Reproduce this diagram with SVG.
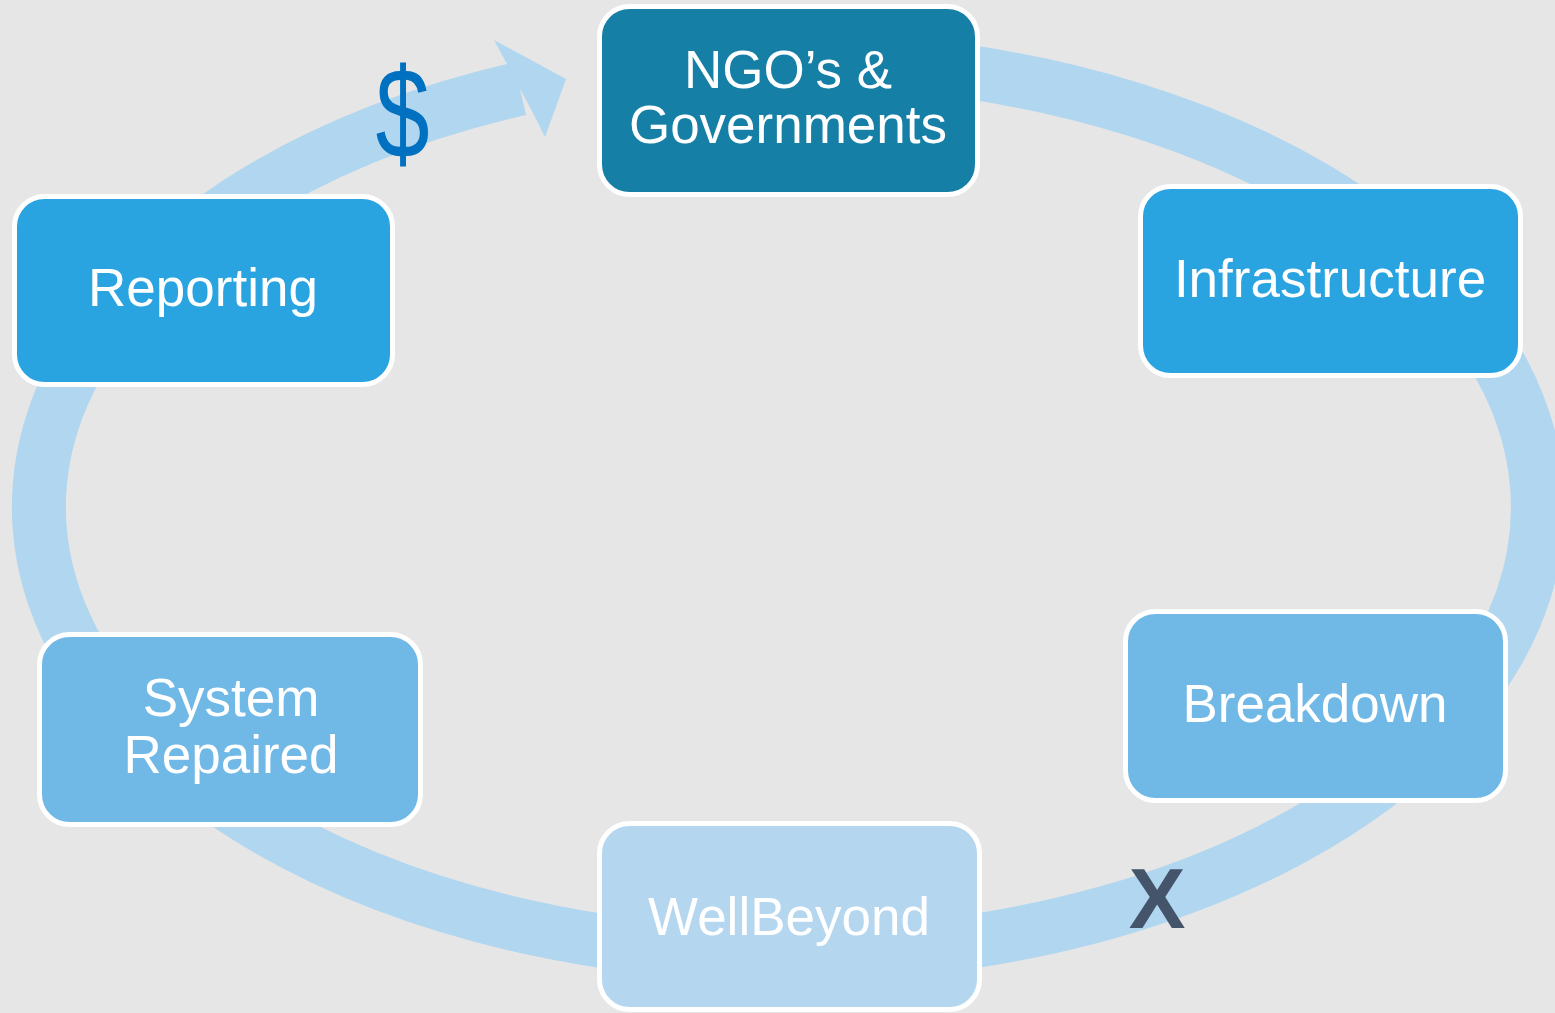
<svg xmlns="http://www.w3.org/2000/svg" width="1555" height="1013" viewBox="0 0 1555 1013">
<style>
.node rect{stroke:#ffffff;stroke-width:5}
.lbl{font-family:"Liberation Sans",Arial,sans-serif;font-size:53px;fill:#ffffff;text-anchor:middle}
.ring{fill:none;stroke:#b1d6f0;stroke-width:54}
</style>
<rect x="0" y="0" width="1555" height="1013" fill="#e6e6e6"/>
<g id="connectors">
<path class="ring" d="M 800 59.05 A 749.5 448 0 1 1 520 88.7"/>
<polygon points="507,64 494,40 566,79 545,137 533,113" fill="#b1d6f0"/>
</g>
<g id="dollar">
<text transform="translate(402.5,0) scale(0.76,1)" x="0" y="158" style="font-family:'Liberation Sans',Arial,sans-serif;font-size:128px;fill:#0070c0;text-anchor:middle">$</text>
</g>
<g id="cross">
<text x="1157" y="928" style="font-family:'Liberation Sans',Arial,sans-serif;font-size:85px;font-weight:bold;fill:#44546a;text-anchor:middle">X</text>
</g>
<g id="ngo" class="node">
<rect x="599.5" y="6.5" width="378" height="188" rx="30" fill="#157fa6"/>
<text class="lbl" x="788" y="88">NGO’s &amp;</text>
<text class="lbl" x="788" y="143">Governments</text>
</g>
<g id="infrastructure" class="node">
<rect x="1140.5" y="186.5" width="380" height="189" rx="30" fill="#29a4e1"/>
<text class="lbl" x="1330" y="297">Infrastructure</text>
</g>
<g id="breakdown" class="node">
<rect x="1125.5" y="611.5" width="380" height="189" rx="30" fill="#70b8e6"/>
<text class="lbl" x="1315" y="722">Breakdown</text>
</g>
<g id="wellbeyond" class="node">
<rect x="599.5" y="823.5" width="380" height="186" rx="30" fill="#b4d6ef"/>
<text class="lbl" x="789" y="935">WellBeyond</text>
</g>
<g id="system-repaired" class="node">
<rect x="39.5" y="634.5" width="381" height="190" rx="30" fill="#70b8e6"/>
<text class="lbl" x="231" y="716">System</text>
<text class="lbl" x="231" y="773">Repaired</text>
</g>
<g id="reporting" class="node">
<rect x="14.5" y="196.5" width="378" height="188" rx="30" fill="#29a4e1"/>
<text class="lbl" x="203" y="306">Reporting</text>
</g>
</svg>
